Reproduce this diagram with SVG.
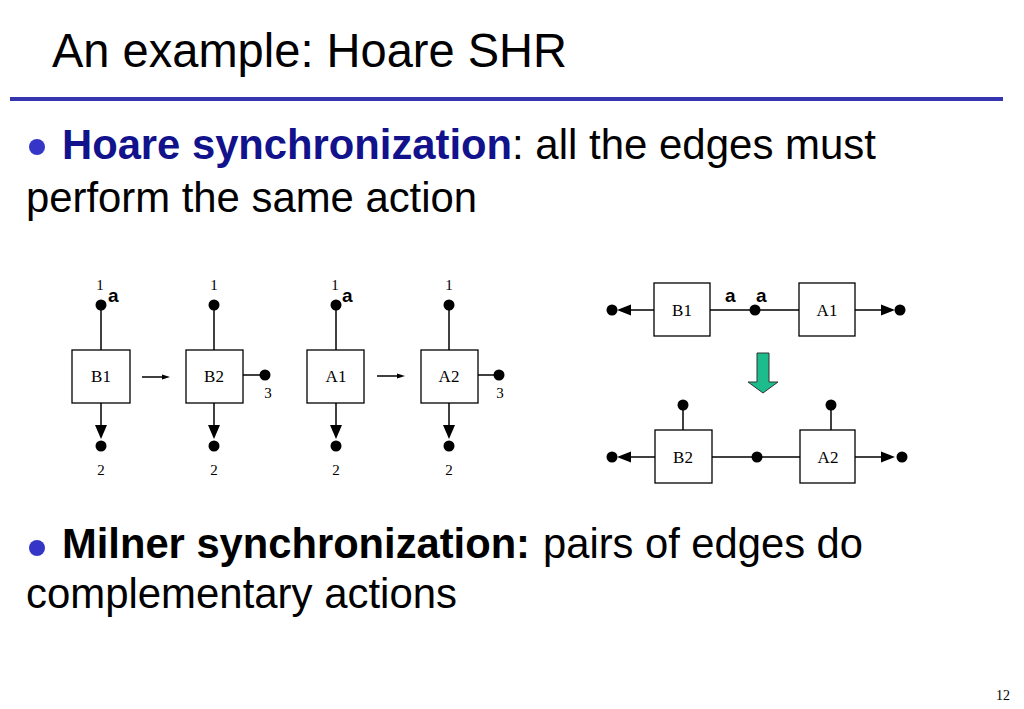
<svg xmlns="http://www.w3.org/2000/svg" width="1024" height="709" viewBox="0 0 1024 709">
<style>
.title{font-family:"Liberation Sans",Arial,sans-serif;font-size:48px;fill:#000}
.body{font-family:"Liberation Sans",Arial,sans-serif;font-size:42px;fill:#000}
.bold{font-weight:bold}
.blue{fill:#12128C}
.bullet{fill:#3535C8}
.box{fill:#fff;stroke:#000;stroke-width:1.3}
.lbl{font-family:"Liberation Serif","Times New Roman",serif;font-size:17px;fill:#000;text-anchor:middle}
.num{font-family:"Liberation Serif","Times New Roman",serif;font-size:15px;fill:#000;text-anchor:middle}
.act{font-family:"Liberation Sans",Arial,sans-serif;font-size:19px;font-weight:bold;fill:#000}
.ln{stroke:#000;stroke-width:1.5;fill:none}
.dot{fill:#000}
.head{fill:#000}
</style>
<rect width="1024" height="709" fill="#fff"/>
<g id="title">
<text class="title" x="52" y="67" textLength="515" lengthAdjust="spacingAndGlyphs">An example: Hoare SHR</text>
<rect x="10" y="97" width="993" height="4" fill="#3535B0"/>
</g>
<g id="bullet1">
<circle class="bullet" cx="37" cy="147" r="8"/>
<text class="body bold blue" x="62" y="159" textLength="450" lengthAdjust="spacingAndGlyphs">Hoare synchronization</text>
<text class="body" x="512" y="159" textLength="364" lengthAdjust="spacingAndGlyphs">: all the edges must</text>
<text class="body" x="26" y="212" textLength="451" lengthAdjust="spacingAndGlyphs">perform the same action</text>
</g>
<g id="bullet2">
<circle class="bullet" cx="37" cy="548" r="8"/>
<text class="body bold" x="62" y="558" textLength="468" lengthAdjust="spacingAndGlyphs">Milner synchronization:</text>
<text class="body" x="543" y="558" textLength="320" lengthAdjust="spacingAndGlyphs">pairs of edges do</text>
<text class="body" x="26" y="608" textLength="431" lengthAdjust="spacingAndGlyphs">complementary actions</text>
</g>
<text id="page" x="1003" y="700" font-family="'Liberation Serif',serif" font-size="14" text-anchor="middle">12</text>

<g id="connectors">
<line class="ln" x1="101" y1="305" x2="101" y2="350"/>
<line class="ln" x1="101" y1="403" x2="101" y2="428"/>
<line class="ln" x1="214" y1="305" x2="214" y2="350"/>
<line class="ln" x1="214" y1="403" x2="214" y2="428"/>
<line class="ln" x1="243" y1="375" x2="262" y2="375"/>
<line class="ln" x1="336" y1="305" x2="336" y2="350"/>
<line class="ln" x1="336" y1="403" x2="336" y2="428"/>
<line class="ln" x1="449" y1="305" x2="449" y2="350"/>
<line class="ln" x1="449" y1="403" x2="449" y2="428"/>
<line class="ln" x1="478" y1="375" x2="497" y2="375"/>
<line class="ln" x1="142" y1="377" x2="165" y2="377"/>
<polygon class="head" points="162,374.5 170,377 162,379.5"/>
<line class="ln" x1="377" y1="376" x2="400" y2="376"/>
<polygon class="head" points="397,373.5 405,376 397,378.5"/>
<polygon class="head" points="95,425 107,425 101,439"/>
<polygon class="head" points="208,425 220,425 214,439"/>
<polygon class="head" points="330,425 342,425 336,439"/>
<polygon class="head" points="443,425 455,425 449,439"/>
<line class="ln" x1="628" y1="310" x2="654" y2="310"/>
<polygon class="head" points="617,310 631,304.5 631,315.5"/>
<line class="ln" x1="710" y1="310" x2="799" y2="310"/>
<line class="ln" x1="855" y1="310" x2="884" y2="310"/>
<polygon class="head" points="895,310 881,304.5 881,315.5"/>
<line class="ln" x1="628" y1="457" x2="655" y2="457"/>
<polygon class="head" points="617,457 631,451.5 631,462.5"/>
<line class="ln" x1="712" y1="457" x2="800" y2="457"/>
<line class="ln" x1="855" y1="457" x2="884" y2="457"/>
<polygon class="head" points="895,457 881,451.5 881,462.5"/>
<line class="ln" x1="683" y1="405" x2="683" y2="430"/>
<line class="ln" x1="831" y1="405" x2="831" y2="430"/>
<polygon points="757,353 769,353 769,382 778,382 763,393 748,382 757,382" fill="#1CBC8C" stroke="#333" stroke-width="1"/>
</g>

<g id="B1-left">
<rect class="box" x="72" y="350" width="58" height="53"/>
<text class="lbl" x="101" y="382">B1</text>
<circle class="dot" cx="101" cy="305" r="5.5"/>
<circle class="dot" cx="101" cy="446" r="5.5"/>
<text class="num" x="100" y="290">1</text>
<text class="num" x="101" y="475">2</text>
<text class="act" x="108" y="302">a</text>
</g>
<g id="B2-left">
<rect class="box" x="186" y="350" width="57" height="53"/>
<text class="lbl" x="214" y="382">B2</text>
<circle class="dot" cx="214" cy="305" r="5.5"/>
<circle class="dot" cx="214" cy="446" r="5.5"/>
<circle class="dot" cx="265" cy="375" r="5.5"/>
<text class="num" x="214" y="290">1</text>
<text class="num" x="214" y="475">2</text>
<text class="num" x="268" y="398">3</text>
</g>
<g id="A1-left">
<rect class="box" x="307" y="350" width="57" height="53"/>
<text class="lbl" x="336" y="382">A1</text>
<circle class="dot" cx="336" cy="305" r="5.5"/>
<circle class="dot" cx="336" cy="446" r="5.5"/>
<text class="num" x="335" y="290">1</text>
<text class="num" x="336" y="475">2</text>
<text class="act" x="342" y="302">a</text>
</g>
<g id="A2-left">
<rect class="box" x="421" y="350" width="57" height="53"/>
<text class="lbl" x="449" y="382">A2</text>
<circle class="dot" cx="449" cy="305" r="5.5"/>
<circle class="dot" cx="449" cy="446" r="5.5"/>
<circle class="dot" cx="499" cy="375" r="5.5"/>
<text class="num" x="449" y="290">1</text>
<text class="num" x="449" y="475">2</text>
<text class="num" x="500" y="398">3</text>
</g>

<g id="B1-right">
<rect class="box" x="654" y="283" width="56" height="53"/>
<text class="lbl" x="682" y="316">B1</text>
<circle class="dot" cx="612" cy="310" r="5.5"/>
</g>
<g id="mid-top">
<circle class="dot" cx="755" cy="310" r="5.5"/>
<text class="act" x="725" y="302">a</text>
<text class="act" x="756" y="302">a</text>
</g>
<g id="A1-right">
<rect class="box" x="799" y="283" width="56" height="53"/>
<text class="lbl" x="827" y="316">A1</text>
<circle class="dot" cx="900" cy="310" r="5.5"/>
</g>
<g id="B2-right">
<rect class="box" x="655" y="430" width="57" height="53"/>
<text class="lbl" x="683" y="463">B2</text>
<circle class="dot" cx="683" cy="405" r="5.5"/>
<circle class="dot" cx="612" cy="457" r="5.5"/>
</g>
<g id="mid-bottom">
<circle class="dot" cx="757" cy="457" r="5.5"/>
</g>
<g id="A2-right">
<rect class="box" x="800" y="430" width="55" height="53"/>
<text class="lbl" x="828" y="463">A2</text>
<circle class="dot" cx="831" cy="405" r="5.5"/>
<circle class="dot" cx="902" cy="457" r="5.5"/>
</g>
</svg>
